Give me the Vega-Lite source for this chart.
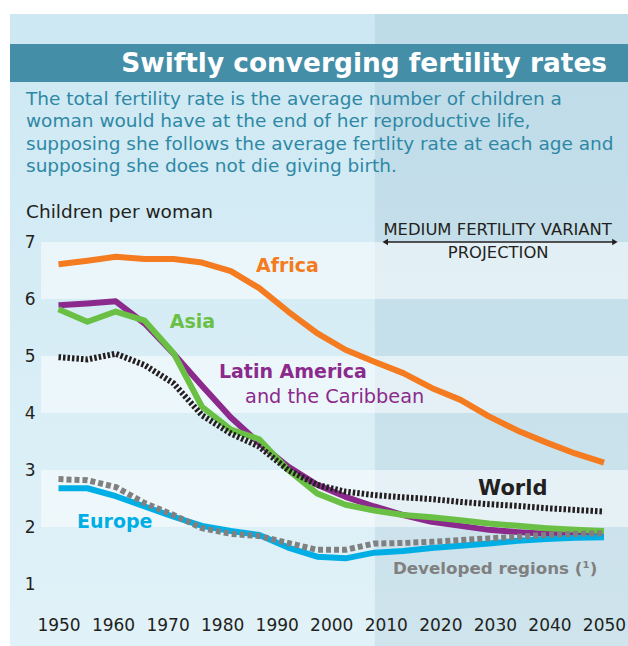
{
  "$schema": "https://vega.github.io/schema/vega-lite/v6.json",
  "width": 618,
  "height": 632,
  "autosize": {"type": "none"},
  "padding": {"left": 10, "top": 14, "right": 0, "bottom": 0},
  "background": "white",
  "config": {"view": {"stroke": null}, "font": "DejaVu Sans"},
  "datasets": {
    "tfr": [
      {"r": "Africa", "x": 1950, "v": 6.61}, {"r": "Africa", "x": 1955.3, "v": 6.67}, {"r": "Africa", "x": 1960.5, "v": 6.74}, {"r": "Africa", "x": 1965.8, "v": 6.70}, {"r": "Africa", "x": 1971.1, "v": 6.70}, {"r": "Africa", "x": 1976.3, "v": 6.64}, {"r": "Africa", "x": 1981.6, "v": 6.49}, {"r": "Africa", "x": 1986.8, "v": 6.19}, {"r": "Africa", "x": 1992.1, "v": 5.78}, {"r": "Africa", "x": 1997.4, "v": 5.40}, {"r": "Africa", "x": 2002.6, "v": 5.11}, {"r": "Africa", "x": 2007.9, "v": 4.90}, {"r": "Africa", "x": 2013.2, "v": 4.70}, {"r": "Africa", "x": 2018.4, "v": 4.44}, {"r": "Africa", "x": 2023.7, "v": 4.23}, {"r": "Africa", "x": 2028.9, "v": 3.94}, {"r": "Africa", "x": 2034.2, "v": 3.69}, {"r": "Africa", "x": 2039.5, "v": 3.48}, {"r": "Africa", "x": 2044.7, "v": 3.29}, {"r": "Africa", "x": 2050, "v": 3.13},
      {"r": "Latin America", "x": 1950, "v": 5.89}, {"r": "Latin America", "x": 1955.3, "v": 5.92}, {"r": "Latin America", "x": 1960.5, "v": 5.96}, {"r": "Latin America", "x": 1965.8, "v": 5.57}, {"r": "Latin America", "x": 1971.1, "v": 5.04}, {"r": "Latin America", "x": 1976.3, "v": 4.48}, {"r": "Latin America", "x": 1981.6, "v": 3.92}, {"r": "Latin America", "x": 1986.8, "v": 3.47}, {"r": "Latin America", "x": 1992.1, "v": 3.06}, {"r": "Latin America", "x": 1997.4, "v": 2.74}, {"r": "Latin America", "x": 2002.6, "v": 2.53}, {"r": "Latin America", "x": 2007.9, "v": 2.36}, {"r": "Latin America", "x": 2013.2, "v": 2.21}, {"r": "Latin America", "x": 2018.4, "v": 2.09}, {"r": "Latin America", "x": 2023.7, "v": 2.02}, {"r": "Latin America", "x": 2028.9, "v": 1.95}, {"r": "Latin America", "x": 2034.2, "v": 1.91}, {"r": "Latin America", "x": 2039.5, "v": 1.88}, {"r": "Latin America", "x": 2044.7, "v": 1.87}, {"r": "Latin America", "x": 2050, "v": 1.86},
      {"r": "Asia", "x": 1950, "v": 5.82}, {"r": "Asia", "x": 1955.3, "v": 5.60}, {"r": "Asia", "x": 1960.5, "v": 5.78}, {"r": "Asia", "x": 1965.8, "v": 5.62}, {"r": "Asia", "x": 1971.1, "v": 5.05}, {"r": "Asia", "x": 1976.3, "v": 4.11}, {"r": "Asia", "x": 1981.6, "v": 3.71}, {"r": "Asia", "x": 1986.8, "v": 3.54}, {"r": "Asia", "x": 1992.1, "v": 3.00}, {"r": "Asia", "x": 1997.4, "v": 2.59}, {"r": "Asia", "x": 2002.6, "v": 2.39}, {"r": "Asia", "x": 2007.9, "v": 2.29}, {"r": "Asia", "x": 2013.2, "v": 2.21}, {"r": "Asia", "x": 2018.4, "v": 2.17}, {"r": "Asia", "x": 2023.7, "v": 2.12}, {"r": "Asia", "x": 2028.9, "v": 2.06}, {"r": "Asia", "x": 2034.2, "v": 2.02}, {"r": "Asia", "x": 2039.5, "v": 1.98}, {"r": "Asia", "x": 2044.7, "v": 1.95}, {"r": "Asia", "x": 2050, "v": 1.93},
      {"r": "World", "x": 1950, "v": 4.98}, {"r": "World", "x": 1955.3, "v": 4.94}, {"r": "World", "x": 1960.5, "v": 5.04}, {"r": "World", "x": 1965.8, "v": 4.84}, {"r": "World", "x": 1971.1, "v": 4.52}, {"r": "World", "x": 1976.3, "v": 3.96}, {"r": "World", "x": 1981.6, "v": 3.64}, {"r": "World", "x": 1986.8, "v": 3.41}, {"r": "World", "x": 1992.1, "v": 3.00}, {"r": "World", "x": 1997.4, "v": 2.74}, {"r": "World", "x": 2002.6, "v": 2.62}, {"r": "World", "x": 2007.9, "v": 2.56}, {"r": "World", "x": 2013.2, "v": 2.52}, {"r": "World", "x": 2018.4, "v": 2.49}, {"r": "World", "x": 2023.7, "v": 2.44}, {"r": "World", "x": 2028.9, "v": 2.40}, {"r": "World", "x": 2034.2, "v": 2.37}, {"r": "World", "x": 2039.5, "v": 2.33}, {"r": "World", "x": 2044.7, "v": 2.30}, {"r": "World", "x": 2050, "v": 2.27},
      {"r": "Europe", "x": 1950, "v": 2.68}, {"r": "Europe", "x": 1955.3, "v": 2.68}, {"r": "Europe", "x": 1960.5, "v": 2.54}, {"r": "Europe", "x": 1965.8, "v": 2.36}, {"r": "Europe", "x": 1971.1, "v": 2.18}, {"r": "Europe", "x": 1976.3, "v": 2.02}, {"r": "Europe", "x": 1981.6, "v": 1.93}, {"r": "Europe", "x": 1986.8, "v": 1.86}, {"r": "Europe", "x": 1992.1, "v": 1.64}, {"r": "Europe", "x": 1997.4, "v": 1.48}, {"r": "Europe", "x": 2002.6, "v": 1.45}, {"r": "Europe", "x": 2007.9, "v": 1.55}, {"r": "Europe", "x": 2013.2, "v": 1.58}, {"r": "Europe", "x": 2018.4, "v": 1.63}, {"r": "Europe", "x": 2023.7, "v": 1.67}, {"r": "Europe", "x": 2028.9, "v": 1.71}, {"r": "Europe", "x": 2034.2, "v": 1.76}, {"r": "Europe", "x": 2039.5, "v": 1.79}, {"r": "Europe", "x": 2044.7, "v": 1.81}, {"r": "Europe", "x": 2050, "v": 1.82},
      {"r": "Developed regions", "x": 1950, "v": 2.84}, {"r": "Developed regions", "x": 1955.3, "v": 2.82}, {"r": "Developed regions", "x": 1960.5, "v": 2.70}, {"r": "Developed regions", "x": 1965.8, "v": 2.42}, {"r": "Developed regions", "x": 1971.1, "v": 2.21}, {"r": "Developed regions", "x": 1976.3, "v": 1.98}, {"r": "Developed regions", "x": 1981.6, "v": 1.88}, {"r": "Developed regions", "x": 1986.8, "v": 1.84}, {"r": "Developed regions", "x": 1992.1, "v": 1.72}, {"r": "Developed regions", "x": 1997.4, "v": 1.60}, {"r": "Developed regions", "x": 2002.6, "v": 1.60}, {"r": "Developed regions", "x": 2007.9, "v": 1.71}, {"r": "Developed regions", "x": 2013.2, "v": 1.72}, {"r": "Developed regions", "x": 2018.4, "v": 1.74}, {"r": "Developed regions", "x": 2023.7, "v": 1.77}, {"r": "Developed regions", "x": 2028.9, "v": 1.80}, {"r": "Developed regions", "x": 2034.2, "v": 1.83}, {"r": "Developed regions", "x": 2039.5, "v": 1.86}, {"r": "Developed regions", "x": 2044.7, "v": 1.88}, {"r": "Developed regions", "x": 2050, "v": 1.89}
    ]
  },
  "data": {"values": [{}]},
  "layer": [
    {
      "mark": {"type": "rect", "color": {"gradient": "linear", "x1": 0, "y1": 0, "x2": 0, "y2": 1, "stops": [{"offset": 0, "color": "#cde8f3"}, {"offset": 1, "color": "#e1f2f8"}]}},
      "encoding": {
        "x": {"datum": 1941.109, "type": "quantitative", "scale": {"domain": [1941.109, 2054.4], "nice": false, "zero": false},
          "axis": {"values": [1950, 1960, 1970, 1980, 1990, 2000, 2010, 2020, 2030, 2040, 2050], "format": "d", "title": null, "domain": false, "ticks": false, "tickSize": 0, "grid": false, "labelFont": "DejaVu Sans", "labelFontSize": 17, "labelColor": "#231f20", "labelPadding": 0, "offset": -21, "labelBaseline": "middle", "labelFlush": false, "labelOverlap": false, "zindex": 1}},
        "x2": {"datum": 2054.4},
        "y": {"datum": -0.0877, "type": "quantitative", "scale": {"domain": [-0.0877, 11.0], "nice": false, "zero": false},
          "axis": {"values": [1, 2, 3, 4, 5, 6, 7], "format": "d", "title": null, "domain": false, "ticks": false, "tickSize": 0, "grid": false, "labelFont": "DejaVu Sans", "labelFontSize": 17, "labelColor": "#231f20", "labelPadding": 0, "offset": -25, "labelAlign": "right", "labelBaseline": "middle", "labelFlush": false, "labelOverlap": false, "zindex": 1}},
        "y2": {"datum": 11.0}
      }
    },
    {
      "mark": {"type": "rect", "color": "#5082a0", "opacity": 0.12},
      "encoding": {
        "x": {"datum": 2008.0, "type": "quantitative"},
        "x2": {"datum": 2054.4},
        "y": {"datum": -0.0877, "type": "quantitative"},
        "y2": {"datum": 11.0}
      }
    },
    {
      "data": {"values": [{"lo": 6, "hi": 7}, {"lo": 4, "hi": 5}, {"lo": 2, "hi": 3}]},
      "mark": {"type": "rect", "color": "white", "opacity": 0.5},
      "encoding": {
        "x": {"datum": 1946.8, "type": "quantitative"},
        "x2": {"datum": 2054.4},
        "y": {"field": "lo", "type": "quantitative"},
        "y2": {"field": "hi"}
      }
    },
    {
      "mark": {"type": "rect", "color": "#458ea8"},
      "encoding": {
        "x": {"datum": 1941.109, "type": "quantitative"},
        "x2": {"datum": 2054.4},
        "y": {"datum": 9.807, "type": "quantitative"},
        "y2": {"datum": 10.474}
      }
    },
    {
      "mark": {"type": "text", "font": "DejaVu Sans", "fontSize": 26.4, "fontWeight": "bold", "color": "white", "align": "right", "baseline": "alphabetic"},
      "encoding": {
        "x": {"datum": 2050.55, "type": "quantitative"},
        "y": {"datum": 9.98, "type": "quantitative"},
        "text": {"value": "Swiftly converging fertility rates"}
      }
    },
    {
      "mark": {"type": "text", "font": "DejaVu Sans", "fontSize": 18.5, "color": "#2e88a5", "align": "left", "baseline": "alphabetic", "lineHeight": 22.4},
      "encoding": {
        "x": {"datum": 1944.04, "type": "quantitative"},
        "y": {"datum": 9.404, "type": "quantitative"},
        "text": {"value": ["The total fertility rate is the average number of children a", "woman would have at the end of her reproductive life,", "supposing she follows the average fertlity rate at each age and", "supposing she does not die giving birth."]}
      }
    },
    {
      "mark": {"type": "text", "font": "DejaVu Sans", "fontSize": 18.5, "color": "#231f20", "align": "left", "baseline": "alphabetic"},
      "encoding": {
        "x": {"datum": 1944.04, "type": "quantitative"},
        "y": {"datum": 7.421, "type": "quantitative"},
        "text": {"value": "Children per woman"}
      }
    },
    {
      "mark": {"type": "text", "font": "DejaVu Sans", "fontSize": 16.4, "color": "#231f20", "align": "center", "baseline": "alphabetic"},
      "encoding": {
        "x": {"datum": 2030.5, "type": "quantitative"},
        "y": {"datum": 7.12, "type": "quantitative"},
        "text": {"value": "MEDIUM FERTILITY VARIANT"}
      }
    },
    {
      "mark": {"type": "text", "font": "DejaVu Sans", "fontSize": 16.4, "color": "#231f20", "align": "center", "baseline": "alphabetic"},
      "encoding": {
        "x": {"datum": 2030.6, "type": "quantitative"},
        "y": {"datum": 6.72, "type": "quantitative"},
        "text": {"value": "PROJECTION"}
      }
    },
    {
      "mark": {"type": "rule", "color": "#231f20", "strokeWidth": 1.5},
      "encoding": {
        "x": {"datum": 2009.9, "type": "quantitative"},
        "x2": {"datum": 2052.0},
        "y": {"datum": 7.0, "type": "quantitative"}
      }
    },
    {
      "mark": {"type": "point", "shape": "triangle-left", "filled": true, "color": "#231f20", "size": 40, "opacity": 1},
      "encoding": {
        "x": {"datum": 2009.9, "type": "quantitative"},
        "y": {"datum": 7.0, "type": "quantitative"}
      }
    },
    {
      "mark": {"type": "point", "shape": "triangle-right", "filled": true, "color": "#231f20", "size": 40, "opacity": 1},
      "encoding": {
        "x": {"datum": 2052.0, "type": "quantitative"},
        "y": {"datum": 7.0, "type": "quantitative"}
      }
    },
    {
      "data": {"name": "tfr"},
      "transform": [{"filter": "datum.r === 'Africa'"}],
      "mark": {"type": "line", "color": "#f47b20", "strokeWidth": 6, "strokeCap": "butt", "strokeJoin": "round"},
      "encoding": {"x": {"field": "x", "type": "quantitative"}, "y": {"field": "v", "type": "quantitative"}}
    },
    {
      "data": {"name": "tfr"},
      "transform": [{"filter": "datum.r === 'Latin America'"}],
      "mark": {"type": "line", "color": "#8b2a8c", "strokeWidth": 6, "strokeCap": "butt", "strokeJoin": "round"},
      "encoding": {"x": {"field": "x", "type": "quantitative"}, "y": {"field": "v", "type": "quantitative"}}
    },
    {
      "data": {"name": "tfr"},
      "transform": [{"filter": "datum.r === 'Asia'"}],
      "mark": {"type": "line", "color": "#6abf45", "strokeWidth": 6, "strokeCap": "butt", "strokeJoin": "round"},
      "encoding": {"x": {"field": "x", "type": "quantitative"}, "y": {"field": "v", "type": "quantitative"}}
    },
    {
      "data": {"name": "tfr"},
      "transform": [{"filter": "datum.r === 'World'"}],
      "mark": {"type": "line", "color": "#231f20", "strokeWidth": 6, "strokeCap": "butt", "strokeDash": [2.5, 2]},
      "encoding": {"x": {"field": "x", "type": "quantitative"}, "y": {"field": "v", "type": "quantitative"}}
    },
    {
      "data": {"name": "tfr"},
      "transform": [{"filter": "datum.r === 'Europe'"}],
      "mark": {"type": "line", "color": "#00aee6", "strokeWidth": 6, "strokeCap": "butt", "strokeJoin": "round"},
      "encoding": {"x": {"field": "x", "type": "quantitative"}, "y": {"field": "v", "type": "quantitative"}}
    },
    {
      "data": {"name": "tfr"},
      "transform": [{"filter": "datum.r === 'Developed regions'"}],
      "mark": {"type": "line", "color": "#808080", "strokeWidth": 6, "strokeCap": "butt", "strokeDash": [5, 3]},
      "encoding": {"x": {"field": "x", "type": "quantitative"}, "y": {"field": "v", "type": "quantitative"}}
    },
    {
      "mark": {"type": "text", "font": "DejaVu Sans", "fontSize": 19, "fontWeight": "bold", "color": "#f47b20", "align": "left", "baseline": "alphabetic"},
      "encoding": {"x": {"datum": 1986.2, "type": "quantitative"}, "y": {"datum": 6.47, "type": "quantitative"}, "text": {"value": "Africa"}}
    },
    {
      "mark": {"type": "text", "font": "DejaVu Sans", "fontSize": 19, "fontWeight": "bold", "color": "#6abf45", "align": "left", "baseline": "alphabetic"},
      "encoding": {"x": {"datum": 1970.4, "type": "quantitative"}, "y": {"datum": 5.49, "type": "quantitative"}, "text": {"value": "Asia"}}
    },
    {
      "mark": {"type": "text", "font": "DejaVu Sans", "fontSize": 19, "fontWeight": "bold", "color": "#8b2a8c", "align": "left", "baseline": "alphabetic"},
      "encoding": {"x": {"datum": 1979.4, "type": "quantitative"}, "y": {"datum": 4.61, "type": "quantitative"}, "text": {"value": "Latin America"}}
    },
    {
      "mark": {"type": "text", "font": "DejaVu Sans", "fontSize": 19.3, "color": "#8b2a8c", "align": "left", "baseline": "alphabetic"},
      "encoding": {"x": {"datum": 1984.2, "type": "quantitative"}, "y": {"datum": 4.18, "type": "quantitative"}, "text": {"value": "and the Caribbean"}}
    },
    {
      "mark": {"type": "text", "font": "DejaVu Sans", "fontSize": 21, "fontWeight": "bold", "color": "#231f20", "align": "left", "baseline": "alphabetic"},
      "encoding": {"x": {"datum": 2026.9, "type": "quantitative"}, "y": {"datum": 2.56, "type": "quantitative"}, "text": {"value": "World"}}
    },
    {
      "mark": {"type": "text", "font": "DejaVu Sans", "fontSize": 19, "fontWeight": "bold", "color": "#00aee6", "align": "left", "baseline": "alphabetic"},
      "encoding": {"x": {"datum": 1953.4, "type": "quantitative"}, "y": {"datum": 1.98, "type": "quantitative"}, "text": {"value": "Europe"}}
    },
    {
      "mark": {"type": "text", "font": "DejaVu Sans", "fontSize": 16.7, "fontWeight": "bold", "color": "#808080", "align": "left", "baseline": "alphabetic"},
      "encoding": {"x": {"datum": 2011.3, "type": "quantitative"}, "y": {"datum": 1.18, "type": "quantitative"}, "text": {"value": "Developed regions (¹)"}}
    }
  ]
}
